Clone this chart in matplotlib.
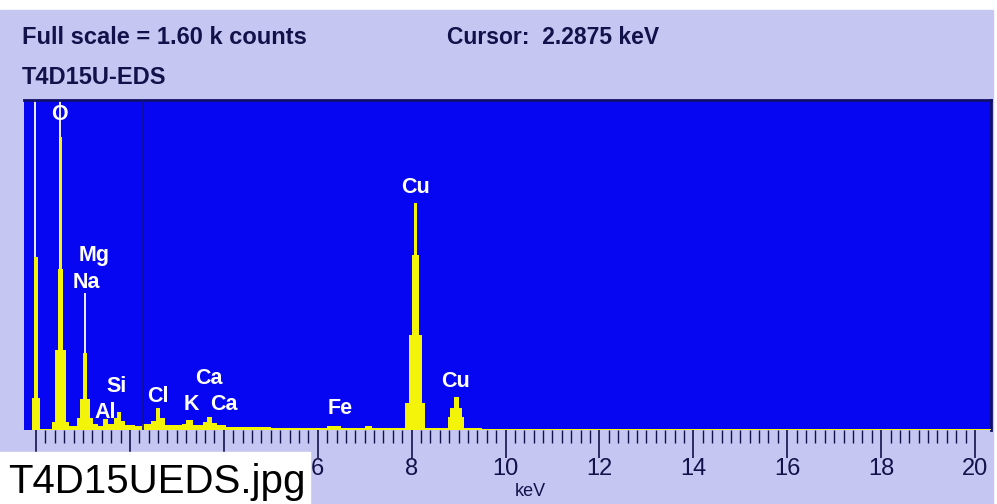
import numpy as np
import matplotlib.pyplot as plt
from matplotlib import font_manager

# spectrum: bin edges (keV) and counts per bin
edges = [-0.26, -0.09, -0.04, 0.04, 0.09, 0.34, 0.40, 0.47, 0.505, 0.545, 0.58,
         0.63, 0.70, 0.88, 0.94, 1.00, 1.08, 1.14, 1.22, 1.32, 1.42, 1.54, 1.66,
         1.72, 1.80, 1.90, 2.10, 2.25, 2.45, 2.55, 2.65, 2.75, 3.10, 3.20, 3.35,
         3.55, 3.64, 3.74, 3.85, 4.05, 5.00, 6.20, 6.50, 7.00, 7.15, 7.86, 7.95,
         8.01, 8.05, 8.11, 8.16, 8.22, 8.29, 8.78, 8.82, 8.90, 9.01, 9.07, 9.12,
         9.50, 20.34]
counts = [0, 155, 840, 155, 5, 40, 390, 780, 1420, 780, 390,
          40, 20, 60, 150, 373, 150, 60, 30, 20, 55, 30,
          60, 85, 45, 25, 20, 30, 45, 105, 60, 25, 30, 50,
          25, 40, 65, 35, 25, 15, 12, 20, 12, 18, 12, 130,
          460, 850, 1100, 850, 460, 130, 12, 63, 107, 160, 107, 63,
          12, 4]

# white KLM marker lines
marker_kev = [-0.02, 0.52, 1.04]
marker_top = [1600, 1600, 664]

# element labels
elements = ['O', 'Mg', 'Na', 'Si', 'Al', 'Cl', 'K', 'Ca', 'Ca', 'Fe', 'Cu', 'Cu']
label_kev = [0.49, 1.235, 1.065, 1.725, 1.47, 2.60, 3.30, 3.685, 4.00, 6.475, 8.09, 8.945]
label_counts = [1532, 848, 717, 213, 87, 160, 126, 252, 126, 102, 1178, 233]

cursor_kev = 2.2875
full_scale = 1600
tick_values = [0, 2, 4, 6, 8, 10, 12, 14, 16, 18, 20]
hidden_ticks = [0, 2, 4]   # covered by the caption box in the screenshot

lavender = '#c6c6f3'
navy = '#12124a'
installed = {f.name for f in font_manager.fontManager.ttflist}
narrow = [f for f in ['Liberation Sans Narrow', 'DejaVu Sans Condensed',
                      'Liberation Sans'] if f in installed] + ['DejaVu Sans']

fig = plt.figure(figsize=(9.97, 5.04), dpi=100)
fig.patch.set_facecolor('white')
# lavender panel behind everything (top strip stays white)
fig.patches.append(plt.Rectangle((0, 0), 993 / 997, 1 - 10 / 504,
                                 transform=fig.transFigure, color=lavender, zorder=-5))

ax = fig.add_axes([24 / 997, 1 - 430 / 504, 967 / 997, 330 / 504])
ax.set_zorder(5)
ax.set_facecolor('#0606f2')
ax.set_xlim(-0.256, 20.34)
ax.set_ylim(0, full_scale)

ax.vlines(marker_kev, 0, marker_top, color='white', lw=1.3, zorder=2)
ax.stairs(counts, edges, fill=True, color='#f4f40a', zorder=3)
ax.axvline(cursor_kev, color='#101090', lw=1.2, zorder=4)

for el, kx, cy in zip(elements, label_kev, label_counts):
    ax.text(kx, cy, el, color='white', fontsize=15.5, fontweight='bold',
            ha='center', va='center', family=narrow, zorder=5)

for s in ['left', 'bottom']:
    ax.spines[s].set_visible(False)
for s in ['top', 'right']:
    ax.spines[s].set_color('#10106a')
    ax.spines[s].set_linewidth(2)

ax.set_yticks([])
ax.set_xticks(tick_values)
ax.set_xticks(np.arange(0, 20.01, 0.2), minor=True)
ax.set_xticklabels(['' if t in hidden_ticks else str(t) for t in tick_values],
                   family=narrow, fontsize=17, color=navy)
ax.tick_params(axis='x', which='major', length=20, width=1.2, color=navy, pad=0,
               direction='out')
ax.tick_params(axis='x', which='minor', length=9, width=1.0, color=navy,
               direction='out')
ax.text(530 / 997, 1 - 492 / 504, 'keV', transform=fig.transFigure, family=narrow,
        fontsize=13, color=navy, ha='center', va='center')

fig.text(22 / 997, 1 - 37 / 504, 'Full scale = 1.60 k counts', family=narrow,
         fontsize=17, fontweight='bold', color=navy, ha='left', va='center')
fig.text(447 / 997, 1 - 37 / 504, 'Cursor:  2.2875 keV', family=narrow,
         fontsize=16.5, fontweight='bold', color=navy, ha='left', va='center')
fig.text(22 / 997, 1 - 78 / 504, 'T4D15U-EDS', family=narrow,
         fontsize=17, fontweight='bold', color=navy, ha='left', va='center')

# white caption box over the lower-left corner
fig.patches.append(plt.Rectangle((0, 0), 310 / 997, 52 / 504,
                                 transform=fig.transFigure, color='white', zorder=10))
fig.text(8 / 997, 1 - 482 / 504, 'T4D15UEDS.jpg', family=['Liberation Sans', 'DejaVu Sans'],
         fontsize=29, color='black', ha='left', va='center', zorder=11)

fig.savefig('out.png', dpi=100)
